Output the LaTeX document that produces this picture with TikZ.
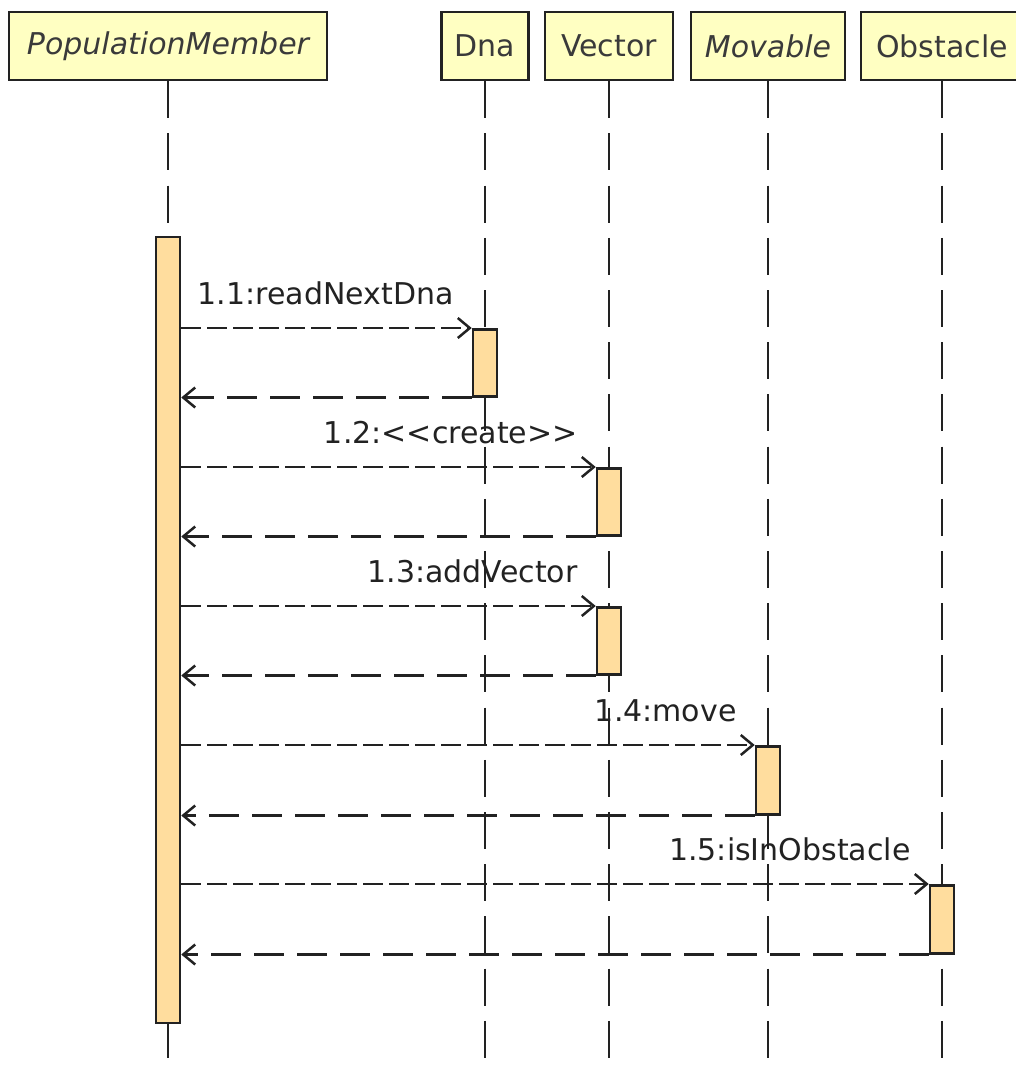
\documentclass[tikz,border=0pt]{standalone}
\usepackage{fontspec}
\setmainfont{DejaVu Sans}
\usetikzlibrary{arrows.meta}
\definecolor{hdrfill}{RGB}{255,255,194}
\definecolor{actfill}{RGB}{255,221,158}
\definecolor{ink}{RGB}{34,34,34}
\definecolor{hdrtext}{RGB}{58,58,58}
\begin{document}
\begin{tikzpicture}[x=1pt,y=-1pt,
  lifeobj/.style={draw=ink, fill=hdrfill, line width=2.5pt, minimum height=68pt,
    inner sep=0pt, text=hdrtext, font=\fontsize{30}{36}\selectfont},
  actbar/.style={draw=ink, fill=actfill, line width=2.5pt, minimum width=24pt,
    inner sep=0pt, anchor=north},
  lifeline/.style={draw=ink, line width=2.5pt, dash pattern=on 37pt off 15.2pt},
  tip/.style={-{Straight Barb[length=12pt,width=20pt]}},
  callmsg/.style={draw=ink, line width=2.5pt, dash pattern=on 20pt off 6pt, tip},
  retmsg/.style={draw=ink, line width=2.5pt, dash pattern=on 30pt off 13pt, tip},
  msglabel/.style={anchor=base east, inner sep=0pt, text=ink,
    font=\fontsize{30}{36}\selectfont, xshift=-18pt, yshift=24pt}
]
\useasboundingbox (0,0) rectangle (1016,1071);
\fill[white] (0,0) rectangle (1016,1071);
\clip (0,0) rectangle (1016,1071);

% bottom edge of all lifelines
\coordinate (bottom) at (0,1071);

% object headers
\node[lifeobj, minimum width=318pt] (hpm)  at (168,46) {\itshape PopulationMember};
\node[lifeobj, minimum width=87pt]  (hdna) at (485,46) {Dna};
\node[lifeobj, minimum width=128pt] (hvec) at (609,46) {Vector};
\node[lifeobj, minimum width=154pt] (hmov) at (768,46) {\itshape Movable};
\node[lifeobj, minimum width=162pt] (hobs) at (942,46) {Obstacle};

% lifelines
\draw[lifeline] (hpm.south)  -- (hpm.south |- bottom);
\draw[lifeline] (hdna.south) -- (hdna.south |- bottom);
\draw[lifeline] (hvec.south) -- (hvec.south |- bottom);
\draw[lifeline] (hmov.south) -- (hmov.south |- bottom);
\draw[lifeline] (hobs.south) -- (hobs.south |- bottom);

% activation bars
\node[actbar, minimum height=786pt] (apm)  at (hpm.south  |- 0,235.5) {};
\node[actbar, minimum height=67pt]  (adna) at (hdna.south |- 0,328) {};
\node[actbar, minimum height=67pt]  (av1)  at (hvec.south |- 0,467) {};
\node[actbar, minimum height=67pt]  (av2)  at (hvec.south |- 0,606) {};
\node[actbar, minimum height=68pt]  (amov) at (hmov.south |- 0,745) {};
\node[actbar, minimum height=68pt]  (aobs) at (hobs.south |- 0,884) {};

% messages and replies
\draw[callmsg] (apm.east |- adna.north) -- (adna.north west);
\draw[retmsg]  (adna.south west) -- (apm.east |- adna.south);
\node[msglabel] (m1) at (adna.north west) {1.1:readNextDna};

\draw[callmsg] (apm.east |- av1.north) -- (av1.north west);
\draw[retmsg]  (av1.south west) -- (apm.east |- av1.south);
\node[msglabel] (m2) at (av1.north west) {1.2:<\kern0pt<create>\kern0pt>};

\draw[callmsg] (apm.east |- av2.north) -- (av2.north west);
\draw[retmsg]  (av2.south west) -- (apm.east |- av2.south);
\node[msglabel] (m3) at (av2.north west) {1.3:addVector};

\draw[callmsg] (apm.east |- amov.north) -- (amov.north west);
\draw[retmsg]  (amov.south west) -- (apm.east |- amov.south);
\node[msglabel] (m4) at (amov.north west) {1.4:move};

\draw[callmsg] (apm.east |- aobs.north) -- (aobs.north west);
\draw[retmsg]  (aobs.south west) -- (apm.east |- aobs.south);
\node[msglabel] (m5) at (aobs.north west) {1.5:isInObstacle};
\end{tikzpicture}
\end{document}
